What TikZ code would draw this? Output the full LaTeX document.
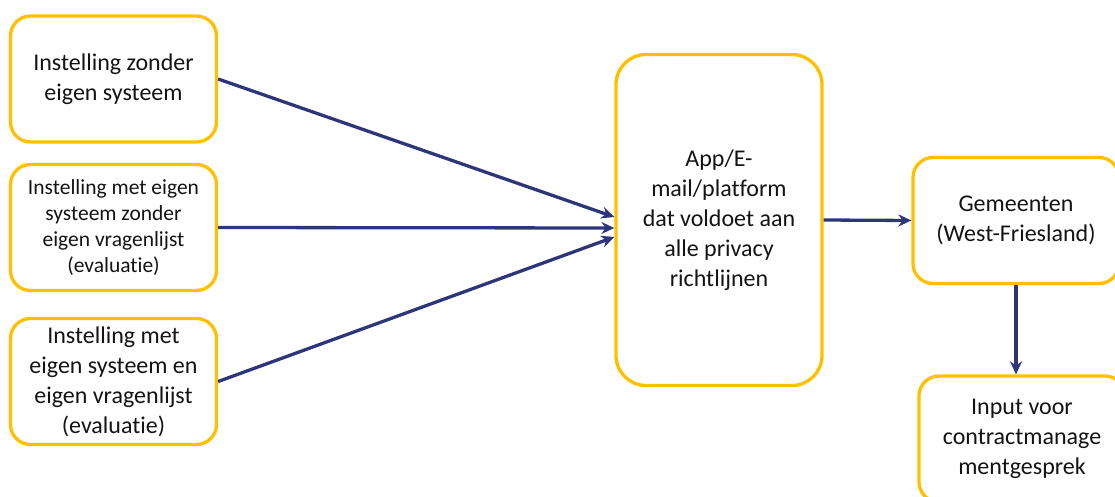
\documentclass[tikz,border=0pt]{standalone}
\usepackage{fontspec}
\setmainfont{Carlito}[Ligatures={NoCommon,NoRare,NoDiscretionary,NoContextual}]
\usetikzlibrary{arrows.meta,calc}
\definecolor{boxyellow}{RGB}{255,192,0}
\definecolor{navy}{RGB}{46,54,122}
\definecolor{txt}{RGB}{20,20,20}
\tikzset{
  box/.style={draw=boxyellow, line width=3.3pt, rounded corners=20pt, fill=white,
    minimum width=206pt, minimum height=126pt, align=center, text=txt, inner sep=0pt},
  bigtext/.style={font=\fontsize{24}{30}\selectfont},
  smalltext/.style={font=\fontsize{21.5}{26}\selectfont},
  conn/.style={draw=navy, line width=3.3pt, -{Stealth[length=13pt,width=12pt]}},
}
\begin{document}
\begin{tikzpicture}[x=1pt,y=-1pt]
\useasboundingbox (0,0) rectangle (1115,497);
\node[box,bigtext] (b1) at (113.5,79) {Instelling zonder\\eigen systeem};
\node[box,smalltext] (b2) at (113.5,227.5) {Instelling met eigen\\systeem zonder\\eigen vragenlijst\\(evaluatie)};
\node[box,bigtext] (b3) at (113.5,381.5) {Instelling met\\eigen systeem en\\eigen vragenlijst\\(evaluatie)};
\node[box,bigtext,rounded corners=30pt,minimum height=331pt] (c) at (719,220) {App/E-\\mail/platform\\dat voldoet aan\\alle privacy\\richtlijnen};
\node[box,bigtext] (g) at (1016,220.5) {Gemeenten\\(West-Friesland)};
\node[box,bigtext] (i) at (1022,439) {Input voor\\contractmanage\\mentgesprek};
\draw[conn] (b1.east) -- ($(c.west)+(0,-3)$);
\draw[conn] (b2.east) -- ($(c.west)+(0,8)$);
\draw[conn] (b3.east) -- ($(c.west)+(0,17)$);
\draw[conn] (c.east) -- (g.west);
\draw[conn] (g.south) -- (g.south |- i.north);
\end{tikzpicture}
\end{document}
